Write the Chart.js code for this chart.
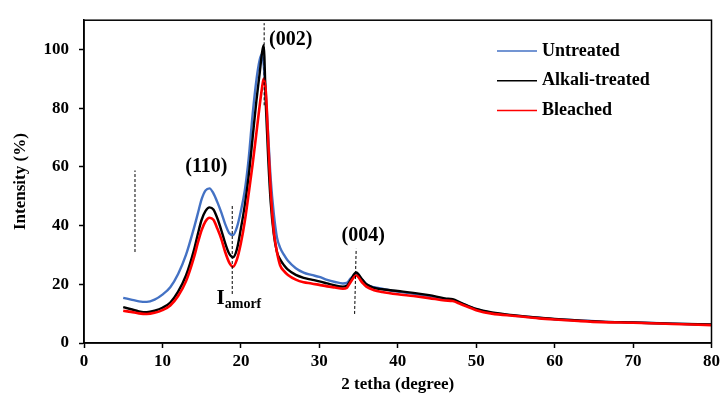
<!DOCTYPE html>
<html>
<head>
<meta charset="utf-8">
<script src="https://cdn.jsdelivr.net/npm/chart.js@4.4.1/dist/chart.umd.min.js"></script>
<style>
    html, body { margin: 0; padding: 0; background: #fff; }
    canvas { display: block; }
</style>
</head>
<body>
<canvas id="xrd-chart" width="723" height="397"></canvas>
<script>
// 2 theta positions (degree) shared by all three patterns
const angles = [
    5, 6, 7, 8, 9, 10, 11, 12, 13, 14,
    14.5, 15, 15.5, 16, 16.5, 17, 17.5, 18, 18.5, 19,
    19.5, 20, 20.5, 21, 21.5, 22, 22.4, 22.7, 22.9, 23.2,
    23.5, 23.8, 24.2, 24.6, 25, 25.5, 26, 27, 28, 29,
    30, 31, 32, 33, 33.5, 34, 34.7, 35.5, 36, 37,
    38, 40, 42, 44, 46, 47, 48, 50, 52, 55,
    58, 60, 63, 66, 70, 75, 80
];

const untreated = [
    15.4, 14.8, 14.2, 14.0, 14.8, 16.5, 19, 23.5, 30, 39,
    44, 49, 52, 52.7, 51, 48, 44.5, 40.5, 37.5, 36.8,
    39.5, 45, 52, 63, 78, 90, 96.5, 98.5, 95, 84,
    70, 56, 44, 36, 32.5, 30, 28, 25.5, 24, 23.2,
    22.5, 21.5, 20.8, 20.3, 20.5, 22, 23.5, 21.5, 20, 19,
    18.5, 17.5, 16.8, 16, 15, 14.6, 13.6, 11.5, 10.2, 9.3,
    8.6, 8.1, 7.7, 7.3, 7.0, 6.6, 6.2
];

const alkaliTreated = [
    12.2, 11.5, 10.8, 10.5, 11, 12, 13.8, 17.5, 23, 31.5,
    37, 42, 45, 46.2, 45.5, 42.5, 38.5, 34, 30.5, 29.2,
    32, 39, 47, 57, 70, 83, 92, 99, 101.5, 80,
    62, 48, 37, 31, 28.5, 26.5, 25, 23.2, 22.2, 21.6,
    21, 20.3, 19.6, 19.2, 19.5, 21.5, 24, 21.5, 20, 18.8,
    18.3, 17.7, 17.1, 16.3, 15.2, 14.9, 13.8, 11.6, 10.4, 9.4,
    8.6, 8.2, 7.7, 7.3, 7.0, 6.6, 6.3
];

const bleached = [
    11, 10.6, 10.1, 9.9, 10.3, 11.2, 12.8, 16, 21, 29,
    34, 38.5, 41.5, 42.7, 42, 39, 35.5, 31, 27.5, 26,
    28.5, 34, 41.5, 51, 61, 72, 81, 87, 90, 85,
    68, 52, 38, 31, 26.5, 24.5, 23.2, 21.6, 20.7, 20.3,
    19.8, 19.3, 18.9, 18.5, 18.8, 20.8, 23, 20.5, 19.2, 18,
    17.4, 16.6, 16, 15.3, 14.5, 14.3, 13.3, 11.2, 10, 9.2,
    8.4, 8, 7.5, 7.1, 6.9, 6.5, 6.1
];

const seriesNames = ["Untreated", "Alkali-treated", "Bleached"];
const xTicks = [0, 10, 20, 30, 40, 50, 60, 70, 80];
const yTicks = [0, 20, 40, 60, 80, 100];

// dashed guide lines, in data units: [x1, y1, x2, y2]
const guides = [
    [6.5, 31, 6.5, 58.8],
    [18.9, 16.7, 18.9, 47.1],
    [22.97, 81, 22.97, 109],
    [34.5, 9.9, 34.7, 32.1]
];
// peak labels, in data units
const peakLabels = [
    { text: "(110)", x: 15.6, y: 60, align: "center" },
    { text: "(002)", x: 23.6, y: 103.3, align: "left" },
    { text: "(004)", x: 35.6, y: 36.6, align: "center" }
];

const SERIF = '"Liberation Serif", "Times New Roman", serif';

document.addEventListener("DOMContentLoaded", () => {
    const ctx = document.getElementById("xrd-chart").getContext("2d");
    const toPoints = vals => vals.map((v, i) => ({ x: angles[i], y: v }));

    // box, dashed guides, labels and legend
    const decorations = {
        id: "decorations",
        afterDraw(chart) {
            const c = chart.ctx;
            const { left, top, right, bottom } = chart.chartArea;
            const xs = chart.scales.x, ys = chart.scales.y;
            c.save();
            c.strokeStyle = "#000";
            c.lineWidth = 1.5;
            c.strokeRect(left, top, right - left, bottom - top);

            c.lineWidth = 1;
            c.setLineDash([3, 2]);
            guides.forEach(g => {
                c.beginPath();
                c.moveTo(xs.getPixelForValue(g[0]), ys.getPixelForValue(g[1]));
                c.lineTo(xs.getPixelForValue(g[2]), ys.getPixelForValue(g[3]));
                c.stroke();
            });
            c.setLineDash([]);

            c.fillStyle = "#000";
            c.textBaseline = "middle";
            c.font = "bold 20px " + SERIF;
            peakLabels.forEach(l => {
                c.textAlign = l.align;
                c.fillText(l.text, xs.getPixelForValue(l.x), ys.getPixelForValue(l.y));
            });

            // I amorf with subscript
            const ix = xs.getPixelForValue(16.9), iy = ys.getPixelForValue(15);
            c.textAlign = "left";
            c.font = "bold 21px " + SERIF;
            c.fillText("I", ix, iy);
            const iw = c.measureText("I").width;
            c.font = "bold 14px " + SERIF;
            c.fillText("amorf", ix + iw, iy + 5);

            // legend
            c.font = "bold 18px " + SERIF;
            [0, 1, 2].forEach((k, row) => {
                const ds = chart.data.datasets[k];
                const y = 51 + row * 29.7;
                c.strokeStyle = ds.borderColor;
                c.lineWidth = 1.5;
                c.beginPath();
                c.moveTo(497, y);
                c.lineTo(537, y);
                c.stroke();
                c.fillText(ds.label, 542, y);
            });
            c.restore();
        }
    };

    const tickFont = { family: SERIF, size: 17, weight: "bold" };

    new Chart(ctx, {
        type: "line",
        data: {
            datasets: [
                { label: seriesNames[0], data: toPoints(untreated), borderColor: "#4472C4", borderWidth: 2.4, order: 2 },
                { label: seriesNames[1], data: toPoints(alkaliTreated), borderColor: "#000000", borderWidth: 2.4, order: 1 },
                { label: seriesNames[2], data: toPoints(bleached), borderColor: "#FF0000", borderWidth: 2.6, order: 0 }
            ]
        },
        options: {
            responsive: false,
            devicePixelRatio: 1,
            animation: false,
            events: [],
            layout: { padding: { top: 13, right: 11, left: 0, bottom: 0 } },
            elements: {
                point: { radius: 0 },
                line: { tension: 0.35, cubicInterpolationMode: "monotone" }
            },
            plugins: {
                legend: { display: false },
                tooltip: { enabled: false }
            },
            scales: {
                x: {
                    type: "linear",
                    min: 0,
                    max: 80,
                    afterBuildTicks: s => { s.ticks = xTicks.map(v => ({ value: v })); },
                    afterFit: s => { s.height = 54; },
                    grid: { drawOnChartArea: false, tickLength: 5, color: "#000", tickWidth: 1.5 },
                    border: { color: "#000", width: 1.5 },
                    ticks: { color: "#000", font: tickFont, padding: 3, maxRotation: 0 },
                    title: {
                        display: true,
                        text: "2 tetha (degree)",
                        color: "#000",
                        font: tickFont,
                        padding: { top: 0, bottom: 2 }
                    }
                },
                y: {
                    min: 0,
                    max: 110,
                    afterBuildTicks: s => { s.ticks = yTicks.map(v => ({ value: v })); },
                    afterFit: s => { s.width = 84; },
                    grid: { drawOnChartArea: false, tickLength: 5, color: "#000", tickWidth: 1.5 },
                    border: { color: "#000", width: 1.5 },
                    ticks: { color: "#000", font: tickFont, padding: 10 },
                    title: {
                        display: true,
                        text: "Intensity (%)",
                        color: "#000",
                        font: tickFont,
                        padding: { top: 10, bottom: 0 }
                    }
                }
            }
        },
        plugins: [decorations]
    });
});
</script>
</body>
</html>
